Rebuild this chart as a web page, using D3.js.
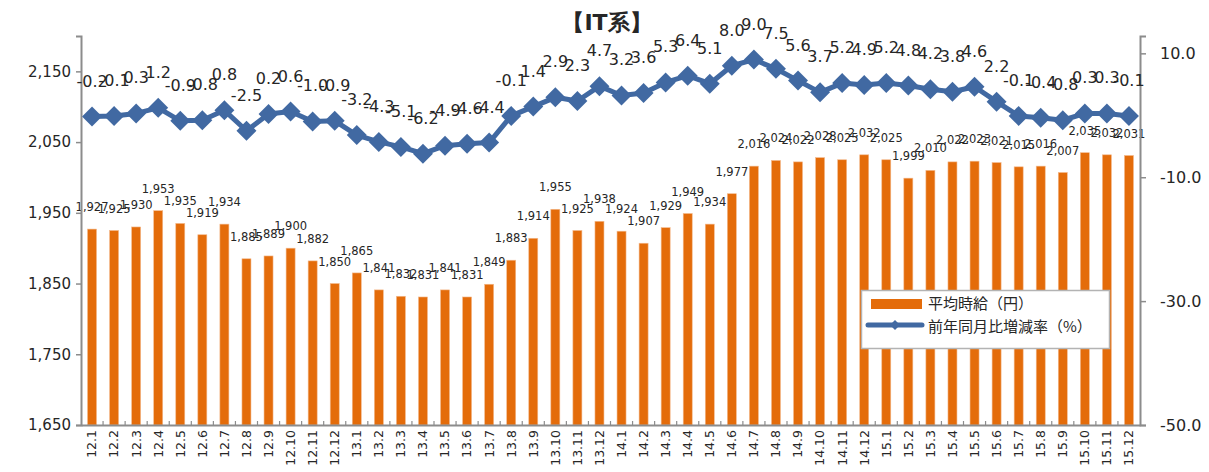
<!DOCTYPE html>
<html>
<head>
<meta charset="utf-8">
<script src="https://cdn.jsdelivr.net/npm/d3@7"></script>
<style>
  body { margin: 0; background: #fff; }
  svg { display: block; font-family: "DejaVu Sans", Verdana, sans-serif; }
</style>
</head>
<body>
<svg id="chart" width="1209" height="472"></svg>
<script>
// months 12.1 .. 15.12
var months = ['12.1','12.2','12.3','12.4','12.5','12.6','12.7','12.8','12.9','12.10','12.11','12.12',
              '13.1','13.2','13.3','13.4','13.5','13.6','13.7','13.8','13.9','13.10','13.11','13.12',
              '14.1','14.2','14.3','14.4','14.5','14.6','14.7','14.8','14.9','14.10','14.11','14.12',
              '15.1','15.2','15.3','15.4','15.5','15.6','15.7','15.8','15.9','15.10','15.11','15.12'];

// 平均時給（円）
var wage = [1927,1925,1930,1953,1935,1919,1934,1885,1889,1900,1882,1850,
            1865,1841,1832,1831,1841,1831,1849,1883,1914,1955,1925,1938,
            1924,1907,1929,1949,1934,1977,2016,2024,2022,2028,2025,2032,
            2025,1999,2010,2022,2023,2021,2015,2016,2007,2035,2032,2031];

// 前年同月比増減率（%）
var yoy = [-0.2,-0.1,0.3,1.2,-0.9,-0.8,0.8,-2.5,0.2,0.6,-1.0,-0.9,
           -3.2,-4.3,-5.1,-6.2,-4.9,-4.6,-4.4,-0.1,1.4,2.9,2.3,4.7,
           3.2,3.6,5.3,6.4,5.1,8.0,9.0,7.5,5.6,3.7,5.2,4.9,
           5.2,4.8,4.2,3.8,4.6,2.2,-0.1,-0.4,-0.8,0.3,0.3,-0.1];

var leftTicks = [1650,1750,1850,1950,2050,2150];
var rightTicks = [-50,-30,-10,10];

var title = '【IT系】';
var legendNames = ['平均時給（円）', '前年同月比増減率（%）'];

var barColor = '#e46c0a',
    lineColor = '#4169a2',
    axisColor = '#8c8c8c',
    textColor = '#262626';

// plain hyphen minus, like the original
var fmt1 = function(d){ return (d < 0 ? '-' : '') + Math.abs(d).toFixed(1); };

var svg = d3.select('#chart');
var margin = {top: 36, right: 69, bottom: 47, left: 81},
    width = 1209, height = 472;

var x = d3.scaleBand()
  .domain(months)
  .range([margin.left, width - margin.right])
  .padding(0);

var yLeft = d3.scaleLinear()
  .domain([1650, 2200])
  .range([height - margin.bottom, margin.top]);

var yRight = d3.scaleLinear()
  .domain([-50, 12.8])
  .range([height - margin.bottom, margin.top]);

// title
svg.append('text')
  .attr('x', 607)
  .attr('y', 30)
  .attr('text-anchor', 'middle')
  .attr('font-size', 22)
  .attr('font-weight', 'bold')
  .attr('fill', textColor)
  .text(title);

// bars
var barW = 9;
svg.append('g')
  .selectAll('rect')
  .data(wage)
  .join('rect')
  .attr('x', (d, i) => x(months[i]) + x.bandwidth() / 2 - barW / 2)
  .attr('y', d => yLeft(d))
  .attr('width', barW)
  .attr('height', d => yLeft(1650) - yLeft(d))
  .attr('fill', barColor)
  .attr('stroke', '#f3b98c')
  .attr('stroke-width', 0.6);

// bar labels
svg.append('g')
  .selectAll('text')
  .data(wage)
  .join('text')
  .attr('x', (d, i) => x(months[i]) + x.bandwidth() / 2)
  .attr('y', d => yLeft(d) - 18)
  .attr('text-anchor', 'middle')
  .attr('font-size', 11.5)
  .attr('fill', textColor)
  .text(d => d3.format(',')(d));

// axes
var gL = svg.append('g')
  .attr('transform', `translate(${margin.left},0)`)
  .call(d3.axisLeft(yLeft).tickValues(leftTicks).tickFormat(d3.format(',')).tickSize(5).tickPadding(5));

var gR = svg.append('g')
  .attr('transform', `translate(${width - margin.right},0)`)
  .call(d3.axisRight(yRight).tickValues(rightTicks).tickFormat(fmt1).tickSize(6).tickPadding(14));

var gX = svg.append('g')
  .attr('transform', `translate(0,${height - margin.bottom})`)
  .call(d3.axisBottom(x).tickSize(0).tickPadding(0));

[gL, gR, gX].forEach(function(g){
  g.select('.domain').attr('stroke', axisColor).attr('stroke-width', 2);
  g.selectAll('.tick line').attr('stroke', axisColor).attr('stroke-width', 1.5);
  g.selectAll('text').attr('fill', textColor).style('font-family', '"DejaVu Sans", Verdana, sans-serif');
});
gL.selectAll('text').attr('font-size', 15);
gR.selectAll('text').attr('font-size', 16);

gX.selectAll('.tick text')
  .attr('font-size', 12.5)
  .attr('text-anchor', 'end')
  .attr('dy', '0.35em')
  .attr('transform', 'translate(0,5) rotate(-90)');

// small ticks between categories on the x axis
svg.append('g')
  .selectAll('line')
  .data(months.slice(1))
  .join('line')
  .attr('x1', d => x(d))
  .attr('x2', d => x(d))
  .attr('y1', height - margin.bottom)
  .attr('y2', height - margin.bottom - 4)
  .attr('stroke', axisColor)
  .attr('stroke-width', 1.2);

// line
var line = d3.line()
  .x((d, i) => x(months[i]) + x.bandwidth() / 2)
  .y(d => yRight(d));

svg.append('path')
  .datum(yoy)
  .attr('fill', 'none')
  .attr('stroke', lineColor)
  .attr('stroke-width', 5)
  .attr('stroke-linejoin', 'round')
  .attr('d', line);

svg.append('g')
  .selectAll('path')
  .data(yoy)
  .join('path')
  .attr('transform', (d, i) => `translate(${x(months[i]) + x.bandwidth() / 2},${yRight(d)}) rotate(45)`)
  .attr('d', d3.symbol().type(d3.symbolSquare).size(200))
  .attr('fill', lineColor);

// line labels
svg.append('g')
  .selectAll('text')
  .data(yoy)
  .join('text')
  .attr('x', (d, i) => x(months[i]) + x.bandwidth() / 2)
  .attr('y', d => yRight(d) - 30)
  .attr('text-anchor', 'middle')
  .attr('font-size', 16)
  .attr('fill', textColor)
  .text(fmt1);

// legend
var lg = svg.append('g');
lg.append('rect')
  .attr('x', 861.5).attr('y', 290.5)
  .attr('width', 248).attr('height', 58)
  .attr('fill', '#fff')
  .attr('stroke', '#b3b3b3')
  .attr('stroke-width', 1.5);
lg.append('rect')
  .attr('x', 871).attr('y', 299)
  .attr('width', 51).attr('height', 10)
  .attr('fill', barColor);
lg.append('line')
  .attr('x1', 868).attr('x2', 922)
  .attr('y1', 325).attr('y2', 325)
  .attr('stroke', lineColor).attr('stroke-width', 5)
  .attr('stroke-linecap', 'round');
lg.append('path')
  .attr('transform', 'translate(895,325) rotate(45)')
  .attr('d', d3.symbol().type(d3.symbolSquare).size(50))
  .attr('fill', lineColor);
lg.selectAll('text.name')
  .data(legendNames)
  .join('text')
  .attr('class', 'name')
  .attr('x', 928)
  .attr('y', (d, i) => 309 + i * 23)
  .attr('font-size', 15)
  .attr('fill', textColor)
  .style('font-family', '"Noto Sans CJK JP", sans-serif')
  .text(d => d);
</script>
</body>
</html>
